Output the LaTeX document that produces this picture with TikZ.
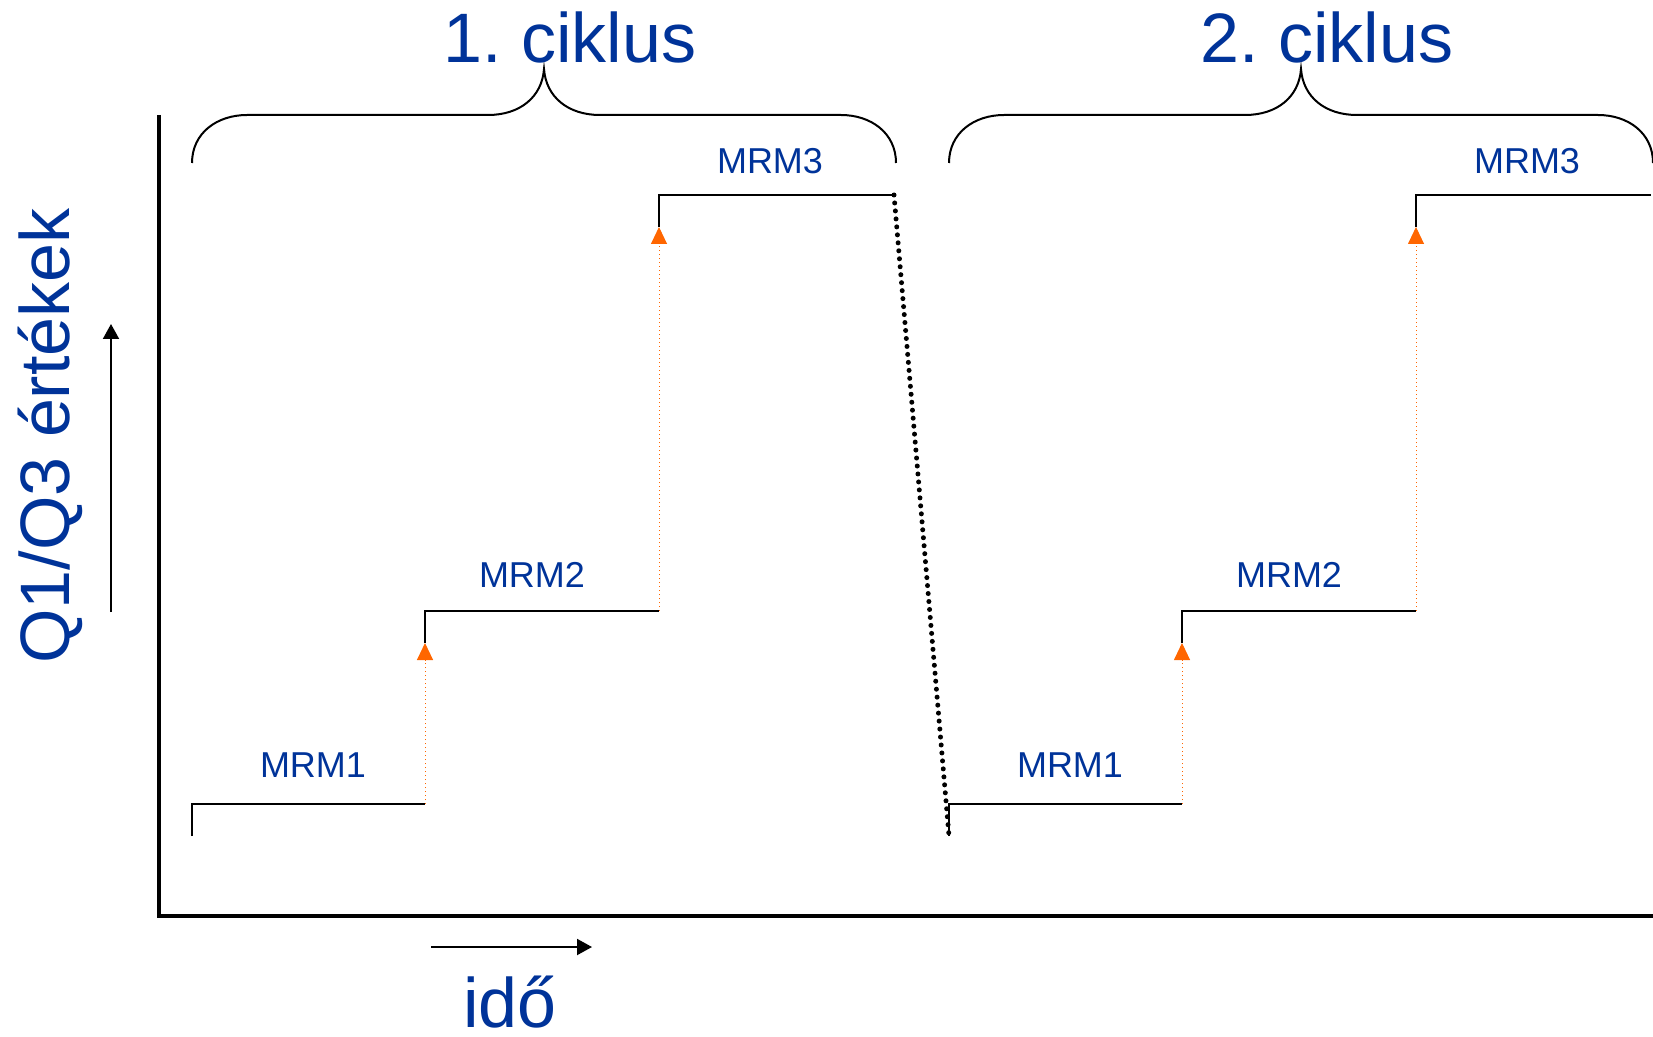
\documentclass[tikz,border=0pt]{standalone}
\usepackage{fontspec}
\setmainfont{Liberation Sans}
\usetikzlibrary{arrows.meta}
\definecolor{cyclblue}{HTML}{003399}
\definecolor{jumporange}{HTML}{FF6600}
\frenchspacing

\begin{document}
\begin{tikzpicture}[x=0.5pt,y=-0.5pt,
    stair/.style={black,line width=1pt},
    jump/.style={jumporange,line width=0.5pt,dash pattern=on 0.5pt off 1.5pt,
        -{Triangle[length=8.5pt,width=8pt]}},
    brace/.style={black,line width=1pt},
    lbl/.style={text=cyclblue,font=\fontsize{18}{20}\selectfont,anchor=base},
    bigtxt/.style={text=cyclblue,font=\fontsize{35}{40}\selectfont,anchor=base,inner sep=0pt}]
    \useasboundingbox (0,0) rectangle (1653,1037);

    % Axes:
    \draw [line width=2pt] (159,115) -- (159,916) -- (1653,916);
    \draw [line width=1pt, -{Triangle[length=7.5pt,width=8pt]}] (111,612) -- (111,324);
    \draw [line width=1pt, -{Triangle[length=7.5pt,width=8pt]}] (431,947) -- (592,947);
    \node [bigtxt, rotate=90] (ylabel) at (69,436) {Q1/Q3 értékek};
    \node [bigtxt] (xlabel) at (510,1027) {idő};

    % One cycle: three steps with a brace above, shifted for the second one
    \foreach \dx/\n in {0/1,757/2}{%
        \begin{scope}[shift={(\dx,0)}]
            \coordinate (a\n) at (192,836);
            \coordinate (b\n) at (192,804);
            \coordinate (c\n) at (425,804);
            \coordinate (d\n) at (425,643);
            \coordinate (e\n) at (425,611);
            \coordinate (f\n) at (659,611);
            \coordinate (g\n) at (659,227);
            \coordinate (h\n) at (659,195);
            \coordinate (i\n) at (894,195);
            \draw [stair] (a\n) -- (b\n) -- (c\n);
            \draw [jump] (c\n) -- (d\n);
            \draw [stair] (d\n) -- (e\n) -- (f\n);
            \draw [jump] (f\n) -- (g\n);
            \draw [stair] (g\n) -- (h\n) -- (i\n);
            \node [lbl] (mrma\n) at (313,777) {MRM1};
            \node [lbl] (mrmb\n) at (532,587) {MRM2};
            \node [lbl] (mrmc\n) at (770,174) {MRM3};
            % brace
            \draw [brace] (192,163) .. controls (192,133) and (217,115) .. (247,115)
                -- (488,115) .. controls (520,115) and (542,97) .. (544,69)
                .. controls (546,97) and (568,115) .. (600,115)
                -- (841,115) .. controls (871,115) and (896,133) .. (896,163);
            \node [bigtxt] (cyc\n) at (570,63) {\n. ciklus};
        \end{scope}
    }

    % drop back to the start of the next cycle
    \draw [line width=2.5pt, dash pattern=on 0pt off 4pt, line cap=round] (i1) -- (a2);
\end{tikzpicture}
\end{document}
